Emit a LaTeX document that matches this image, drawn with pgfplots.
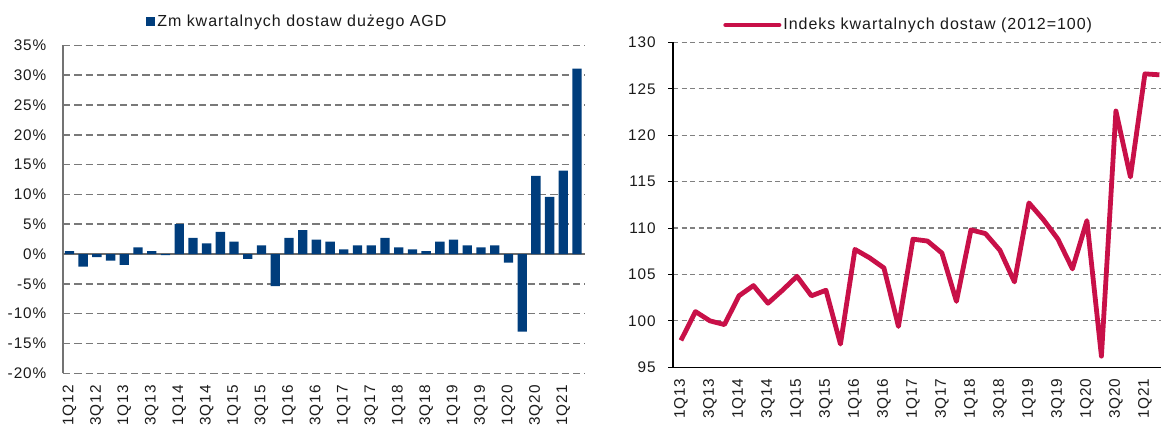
\documentclass[border=0pt]{standalone}
\usepackage{fontspec}
\setmainfont{Liberation Sans}[LetterSpace=6]
\usepackage{pgfplots}
\pgfplotsset{compat=1.18}
\definecolor{navy}{RGB}{0,61,124}
\definecolor{crim}{RGB}{200,16,72}
\definecolor{txt}{RGB}{26,26,26}
\begin{document}
\begin{tikzpicture}
\path[use as bounding box] (0,0) rectangle (870.75pt,-319.5pt);
% ---------- left chart ----------
\begin{axis}[
  at={(47.25pt,-33.975pt)}, anchor=north west,
  scale only axis, width=391.5pt, height=246pt,
  xmin=-0.47, xmax=37.58, ymin=-20, ymax=35,
  ybar, bar width=7pt,
  axis x line*=bottom, axis y line*=left,
  x axis line style={draw=none},
  y axis line style={draw=gray!90!black, line width=0.9pt, -},
  ytick={-20,-15,...,35},
  yticklabels={-20\%,-15\%,-10\%,-5\%,0\%,5\%,10\%,15\%,20\%,25\%,30\%,35\%},
  major tick length=0pt,
  ymajorgrids, major grid style={gray!95!black, dash pattern=on 5.5pt off 3pt, line width=1.2pt},
  extra y ticks={0}, extra y tick labels={},
  extra y tick style={grid=major, major grid style={solid, draw=gray!85!black, line width=1pt}},
  xtick={0,2,...,36},
  xticklabels={1Q12,3Q12,1Q13,3Q13,1Q14,3Q14,1Q15,3Q15,1Q16,3Q16,1Q17,3Q17,1Q18,3Q18,1Q19,3Q19,1Q20,3Q20,1Q21},
  xticklabel style={yshift=-5.5pt, rotate=90, anchor=east, font=\fontsize{11.5}{13}\selectfont},
  tick label style={font=\fontsize{11.5}{13}\selectfont, text=txt},
  yticklabel style={xshift=-9pt},
  legend style={at={(0.159,1.073)}, anchor=west, draw=none, fill=none, inner sep=0pt,
     font=\fontsize{12}{14}\selectfont, text=txt, nodes={inner sep=1.5pt}},
]
\addplot[fill=navy, draw=none,
  legend image code/.code={\fill[navy] (0pt,-3.4pt) rectangle (6.8pt,3.4pt);}] coordinates {
(0,0.5) (1,-2.1) (2,-0.5) (3,-1.1) (4,-1.8) (5,1.1) (6,0.5) (7,-0.2)
(8,5.0) (9,2.7) (10,1.8) (11,3.7) (12,2.1) (13,-0.8) (14,1.45) (15,-5.4)
(16,2.7) (17,4.0) (18,2.4) (19,2.1) (20,0.8) (21,1.45) (22,1.45) (23,2.7)
(24,1.1) (25,0.8) (26,0.5) (27,2.1) (28,2.4) (29,1.45) (30,1.1) (31,1.45)
(32,-1.45) (33,-13.0) (34,13.1) (35,9.6) (36,14.0) (37,31.1)};
\addlegendentry{Zm kwartalnych dostaw dużego AGD}
\end{axis}
% ---------- right chart ----------
\begin{axis}[
  at={(504.75pt,-31.725pt)}, anchor=north west,
  scale only axis, width=366pt, height=243.75pt,
  xmin=-0.55, xmax=33.11, ymin=95, ymax=130,
  axis x line*=bottom, axis y line*=left,
  axis line style={draw=black, line width=0.8pt, -},
  ytick={95,100,...,130},
  yticklabels={95,100,105,110,115,120,125,130},
  ytick style={draw=black, line width=0.6pt},
  ytick align=outside, xtick style={draw=none},
  major tick length=3.5pt,
  ymajorgrids, major grid style={gray, dash pattern=on 3.8pt off 2.6pt, line width=0.8pt},
  xtick={0,2,...,32},
  xticklabels={1Q13,3Q13,1Q14,3Q14,1Q15,3Q15,1Q16,3Q16,1Q17,3Q17,1Q18,3Q18,1Q19,3Q19,1Q20,3Q20,1Q21},
  xticklabel style={yshift=-5pt, rotate=90, anchor=east, font=\fontsize{11.5}{13}\selectfont},
  tick label style={font=\fontsize{11.5}{13}\selectfont, text=txt},
  yticklabel style={xshift=-6pt},
  legend style={at={(0.1025,1.053)}, anchor=west, draw=none, fill=none, inner sep=0pt,
     font=\fontsize{12}{14}\selectfont, text=txt, nodes={inner sep=1.5pt}},
  legend image code/.code={\draw[#1, line cap=round] (0pt,0pt) -- (40pt,0pt);},
]
\addplot[crim, line width=3.6pt, line join=round, mark=none] coordinates {
(0,97.9) (1,101.0) (2,100.0) (3,99.6) (4,102.7) (5,103.8) (6,101.9) (7,103.3)
(8,104.8) (9,102.7) (10,103.3) (11,97.5) (12,107.7) (13,106.8) (14,105.7) (15,99.4)
(16,108.8) (17,108.6) (18,107.3) (19,102.1) (20,109.8) (21,109.4) (22,107.6) (23,104.2)
(24,112.7) (25,110.9) (26,108.8) (27,105.6) (28,110.8) (29,96.2) (30,122.6) (31,115.5)
(32,126.6) (33,126.5)};
\addlegendentry{Indeks kwartalnych dostaw (2012=100)}
\end{axis}
\end{tikzpicture}
\end{document}
